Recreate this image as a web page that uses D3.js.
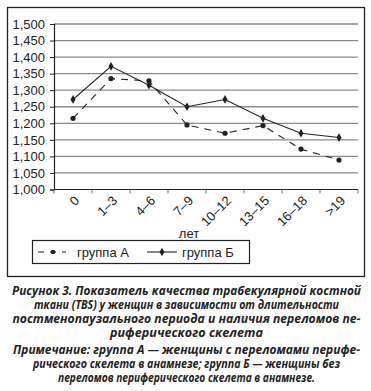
<!DOCTYPE html>
<html>
<head>
<meta charset="utf-8">
<script src="https://cdn.jsdelivr.net/npm/d3@7"></script>
<style>
  body { margin: 0; background: #fff; }
  svg { display: block; }
  .axis text { font-family: "Liberation Sans", Arial, sans-serif; font-size: 13px; fill: #222; }
  .caption { font-family: "Open Sans", sans-serif; font-weight: bold; font-style: italic; font-size: 12px; fill: #222; }
</style>
</head>
<body>
<div id="chart"></div>
<script>
// categories: years since menopause
var categories = ["0", "1\u20133", "4\u20136", "7\u20139", "10\u201312", "13\u201315", "16\u201318", ">19"];
// TBS values
var groupA = [1.215, 1.335, 1.328, 1.195, 1.170, 1.193, 1.122, 1.089];
var groupB = [1.272, 1.372, 1.315, 1.250, 1.272, 1.215, 1.170, 1.157];
var yTicks = [1.000, 1.050, 1.100, 1.150, 1.200, 1.250, 1.300, 1.350, 1.400, 1.450, 1.500];
var yTickLabels = ["1,000", "1,050", "1,100", "1,150", "1,200", "1,250", "1,300", "1,350", "1,400", "1,450", "1,500"];
var seriesNames = ["группа А", "группа Б"];
var captionLines = [
	"Рисунок 3. Показатель качества трабекулярной костной",
	"ткани (TBS) у женщин в зависимости от длительности",
	"постменопаузального периода и наличия переломов пе-",
	"риферического скелета",
	"Примечание: группа А — женщины с переломами перифе-",
	"рического скелета в анамнезе; группа Б — женщины без",
	"переломов периферического скелета в анамнезе."
];

var width = 371, height = 391;
var ink = "#222";

var svg = d3.select("#chart")
	.append("svg")
	.attr("width", width)
	.attr("height", height);

// outer frame
svg.append("rect")
	.attr("x", 7.5).attr("y", 7.5)
	.attr("width", 357).attr("height", 269)
	.attr("fill", "none")
	.attr("stroke", ink)
	.attr("stroke-width", 1.3);

var plot = {left: 54, right: 358, top: 24, bottom: 189.5};

var x = d3.scaleBand()
	.domain(categories)
	.range([plot.left, plot.right]);

var y = d3.scaleLinear()
	.domain([1.0, 1.5])
	.range([plot.bottom, plot.top]);

// gridlines
svg.append("g")
	.selectAll("line")
	.data(yTicks.slice(1))
	.enter()
	.append("line")
	.attr("x1", plot.left).attr("x2", plot.right)
	.attr("y1", function(d) { return y(d); })
	.attr("y2", function(d) { return y(d); })
	.attr("stroke", "#8a8a8a")
	.attr("stroke-width", 1.3);

// y axis
var yAxis = svg.append("g")
	.attr("class", "axis")
	.attr("transform", "translate(" + plot.left + ",0)")
	.call(d3.axisLeft(y)
		.tickValues(yTicks)
		.tickFormat(function(d, i) { return yTickLabels[i]; })
		.tickSize(4)
		.tickPadding(5));
yAxis.select(".domain").attr("stroke", ink).attr("stroke-width", 1.2);
yAxis.selectAll(".tick line").attr("stroke", ink);

// x axis: ticks sit between categories
var bounds = categories.map(function(c) { return x(c); }).concat([plot.right]);
var xAxis = svg.append("g")
	.attr("class", "axis")
	.attr("transform", "translate(0," + plot.bottom + ")");
xAxis.append("line")
	.attr("x1", plot.left).attr("x2", plot.right)
	.attr("stroke", ink).attr("stroke-width", 1.2);
xAxis.selectAll("line.tk")
	.data(bounds)
	.enter()
	.append("line")
	.attr("class", "tk")
	.attr("x1", function(d) { return d; })
	.attr("x2", function(d) { return d; })
	.attr("y1", 0).attr("y2", 4)
	.attr("stroke", "#777");
xAxis.selectAll("text")
	.data(categories)
	.enter()
	.append("text")
	.attr("text-anchor", "end")
	.attr("transform", function(d) {
		return "translate(" + (x(d) + x.bandwidth() / 2 + 7) + ",12) rotate(-45)";
	})
	.text(function(d) { return d; });

svg.append("text")
	.attr("x", 189).attr("y", 238)
	.attr("text-anchor", "middle")
	.style("font-family", "Liberation Sans, Arial, sans-serif")
	.style("font-size", "13px")
	.attr("fill", ink)
	.text("лет");

// lines
var line = d3.line()
	.x(function(d, i) { return x(categories[i]) + x.bandwidth() / 2; })
	.y(function(d) { return y(d); });

svg.append("path")
	.datum(groupA)
	.attr("d", line)
	.attr("fill", "none")
	.attr("stroke", ink)
	.attr("stroke-width", 1.1)
	.attr("stroke-dasharray", "7,6");

svg.append("path")
	.datum(groupB)
	.attr("d", line)
	.attr("fill", "none")
	.attr("stroke", ink)
	.attr("stroke-width", 1.1);

svg.append("g")
	.selectAll("circle")
	.data(groupA)
	.enter()
	.append("circle")
	.attr("cx", function(d, i) { return x(categories[i]) + x.bandwidth() / 2; })
	.attr("cy", function(d) { return y(d); })
	.attr("r", 2.6)
	.attr("fill", ink);

var diamond = d3.symbol().type(d3.symbolDiamond).size(22);
svg.append("g")
	.selectAll("path")
	.data(groupB)
	.enter()
	.append("path")
	.attr("d", diamond)
	.attr("transform", function(d, i) {
		return "translate(" + (x(categories[i]) + x.bandwidth() / 2) + "," + y(d) + ")";
	})
	.attr("fill", ink);

// legend
var legend = svg.append("g");
legend.append("rect")
	.attr("x", 32.5).attr("y", 240.5)
	.attr("width", 217).attr("height", 23)
	.attr("fill", "none")
	.attr("stroke", ink)
	.attr("stroke-width", 1.2);
legend.append("line")
	.attr("x1", 38).attr("x2", 66).attr("y1", 252).attr("y2", 252)
	.attr("stroke", ink).attr("stroke-width", 1.1)
	.attr("stroke-dasharray", "6,6");
legend.append("circle")
	.attr("cx", 53).attr("cy", 252).attr("r", 2.3).attr("fill", ink);
legend.append("line")
	.attr("x1", 147).attr("x2", 177).attr("y1", 252).attr("y2", 252)
	.attr("stroke", ink).attr("stroke-width", 1.1);
legend.append("path")
	.attr("d", diamond)
	.attr("transform", "translate(162,252)")
	.attr("fill", ink);
legend.selectAll("text")
	.data(seriesNames)
	.enter()
	.append("text")
	.attr("x", function(d, i) { return i === 0 ? 77 : 182; })
	.attr("y", 256.5)
	.style("font-family", "Liberation Sans, Arial, sans-serif")
	.style("font-size", "13px")
	.attr("fill", ink)
	.text(function(d) { return d; });

// caption
var captionWidths = [349, 305, 348, 153, 347, 307, 257];
var captionY = [295, 309, 323, 337, 354, 368, 382];
svg.append("g")
	.selectAll("text")
	.data(captionLines)
	.enter()
	.append("text")
	.attr("class", "caption")
	.attr("x", 186.5)
	.attr("y", function(d, i) { return captionY[i]; })
	.attr("text-anchor", "middle")
	.attr("textLength", function(d, i) { return captionWidths[i]; })
	.attr("lengthAdjust", "spacingAndGlyphs")
	.text(function(d) { return d; });
</script>
</body>
</html>
